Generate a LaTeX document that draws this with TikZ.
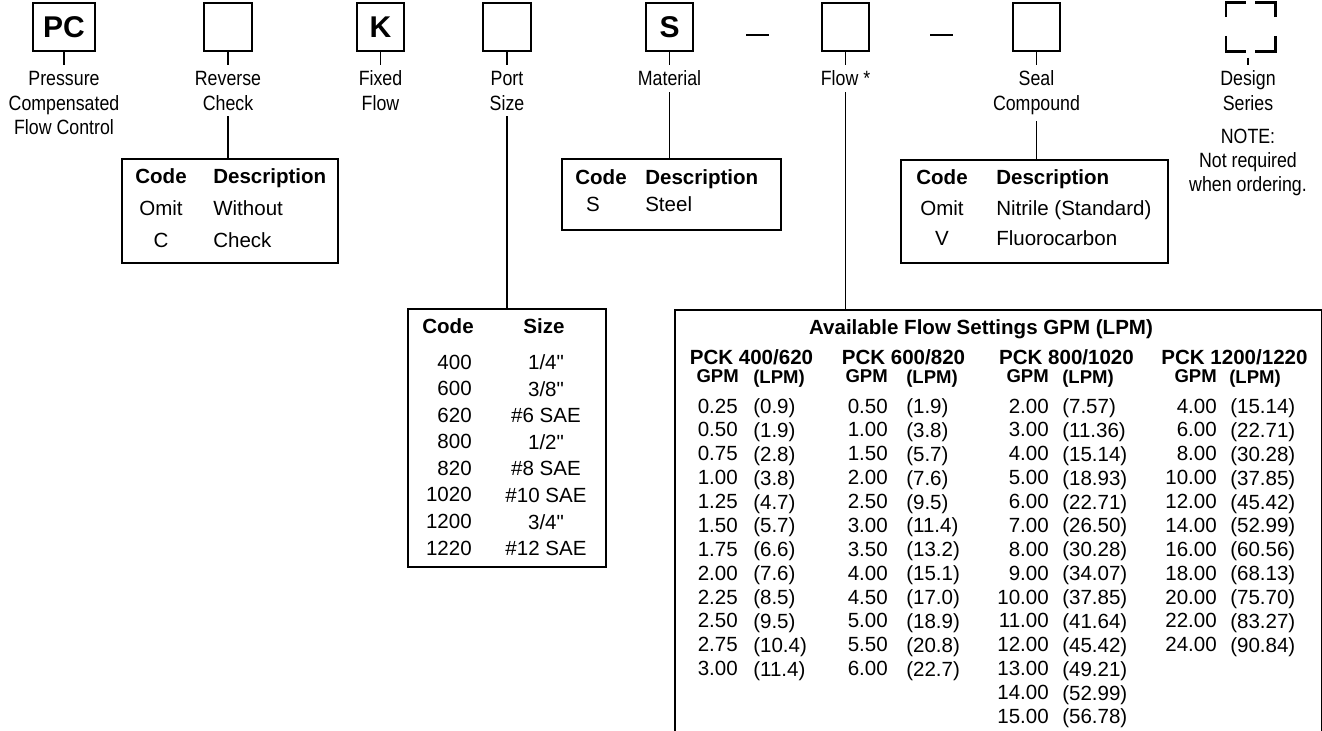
\documentclass[tikz,border=0pt]{standalone}
\usepackage{fontspec}
\setmainfont{Liberation Sans}[Ligatures=TeXOff]
\newfontfamily\narrowfont[FakeStretch=0.86]{Liberation Sans}
\newcommand{\lblfont}{\narrowfont\fontsize{15.5}{18.6}\selectfont}
\newcommand{\headfont}{\bfseries\fontsize{15.4}{18}\selectfont}

\begin{document}
\begin{tikzpicture}[x=0.75pt, y=-0.75pt,
    codebox/.style={draw, line width=1.3pt, inner sep=0pt, minimum width=35.5pt, minimum height=36pt,
      font=\bfseries\fontsize{22.5}{27}\selectfont},
    partlabel/.style={font=\lblfont, align=center, inner sep=0pt, outer sep=4.5pt, anchor=north},
    tablebox/.style={draw, line width=1.2pt, inner sep=0pt},
    cell/.style={inner sep=0pt, font=\fontsize{15.4}{#1}\selectfont},
    cell/.default=17.9pt,
    subhead/.style={inner sep=0pt, font=\bfseries\fontsize{13.9}{16}\selectfont},
    link/.style={line width=1pt},
    corner/.style={line width=2.2pt}]

  \useasboundingbox (0,0) rectangle (1322,731);

  % part number boxes
  \node[codebox, minimum width=46.5pt] (pc) at (64,27) {PC};
  \node[codebox] (rev) at (228,27) {};
  \node[codebox] (fixed) at (380.5,27) {K};
  \node[codebox] (port) at (507,27) {};
  \node[codebox] (mat) at (669.5,27) {S};
  \node[codebox] (flow) at (845.5,27) {};
  \node[codebox] (seal) at (1036.5,27) {};
  \node[codebox, draw=none] (design) at (1250.5,27) {};

  \draw[link] (746,35) -- (769,35);
  \draw[link] (930,35) -- (953,35);

  % corner marks of the optional box
  \draw[corner] ([yshift=-11.25pt]design.north west) -- (design.north west) -- ([xshift=15pt]design.north west);
  \draw[corner] ([yshift=-11.25pt]design.north east) -- (design.north east) -- ([xshift=-15pt]design.north east);
  \draw[corner] ([yshift=12pt]design.south west) -- (design.south west) -- ([xshift=15pt]design.south west);
  \draw[corner] ([yshift=12pt]design.south east) -- (design.south east) -- ([xshift=-15pt]design.south east);

  % labels
  \node[partlabel] (pclbl) at (64,65) {Pressure\\Compensated\\Flow Control};
  \node[partlabel] (revlbl) at (228,65) {Reverse\\Check};
  \node[partlabel] (fixedlbl) at (380.5,65) {Fixed\\Flow};
  \node[partlabel] (portlbl) at (507,65) {Port\\Size};
  \node[partlabel] (matlbl) at (669.5,65) {Material};
  \node[partlabel] (flowlbl) at (845.5,65) {Flow *};
  \node[partlabel] (seallbl) at (1036.5,65) {Seal\\Compound};
  \node[partlabel] (designlbl) at (1248,65) {Design\\Series};
  \node[partlabel, outer sep=0pt, font=\narrowfont\fontsize{15.5}{18}\selectfont] (note) at (1248,129)
    {NOTE:\\Not required\\when ordering.};
  \coordinate (designtick) at (1248,58);

  \foreach \p in {pc,rev,fixed,port,mat,flow,seal}
    \draw[link] (\p.south) -- (\p lbl.north);
  \draw[link] (designtick) -- (designlbl.north);

  % reverse check
  \node[tablebox, minimum width=162pt, minimum height=78pt] (revtab) at (230,211) {};
  \node[cell=24pt, anchor=north, align=center] (revcode) at (161,168.5) {\textbf{Code}\\Omit\\C};
  \node[cell=24pt, anchor=north west, align=left] (revdesc) at (213,168.5) {\textbf{Description}\\Without\\Check};

  % material
  \node[tablebox, minimum width=164.25pt, minimum height=53.25pt] (mattab) at (671.5,194.5) {};
  \node[cell, anchor=north] (matcode) at (601,169.5) {\textbf{Code}};
  \node[cell, anchor=north] (matS) at (593,196.5) {S};
  \node[cell=20.25pt, anchor=north west, align=left] (matdesc) at (645,169.5) {\textbf{Description}\\Steel};

  % seal compound
  \node[tablebox, minimum width=200.25pt, minimum height=77.25pt] (sealtab) at (1034.5,211.5) {};
  \node[cell=22.9pt, anchor=north, align=center] (sealcode) at (942,169.5) {\textbf{Code}\\Omit\\V};
  \node[cell=22.9pt, anchor=north west, align=left] (sealdesc) at (996,169.5)
    {\textbf{Description}\\Nitrile (Standard)\\Fluorocarbon};

  % port size
  \node[tablebox, minimum width=148.5pt, minimum height=193.5pt] (porttab) at (507,438) {};
  \node[cell, anchor=north] (portcodehd) at (448,318.5) {\textbf{Code}};
  \node[cell, anchor=north] (portsizehd) at (544,318.5) {\textbf{Size}};
  \node[cell=19.93pt, anchor=north east, align=right] (portcodes) at (472,354.5)
    {400\\600\\620\\800\\820\\1020\\1200\\1220};
  \node[cell=19.93pt, anchor=north, align=center] (portsizes) at (546,354.5)
    {1/4"\\3/8"\\\#6 SAE\\1/2"\\\#8 SAE\\\#10 SAE\\3/4"\\\#12 SAE};

  % flow settings
  \node[tablebox, minimum width=485.25pt, minimum height=345pt, anchor=north west] (flowtab) at (674,309) {};
  \node[cell, anchor=north, font=\headfont] (flowtitle) at (981,319.5) {Available Flow Settings GPM (LPM)};
  \node[cell, anchor=north, font=\headfont] (pck1) at (751.5,349.5) {PCK 400/620};
  \node[cell, anchor=north, font=\headfont] (pck2) at (903.5,349.5) {PCK 600/820};
  \node[cell, anchor=north, font=\headfont] (pck3) at (1066.5,349.5) {PCK 800/1020};
  \node[cell, anchor=north, font=\headfont] (pck4) at (1234.5,349.5) {PCK 1200/1220};
  \foreach \c/\gx/\lx in {1/739/753, 2/888/906, 3/1049/1062, 4/1217/1229} {
    \node[subhead, anchor=north east] (gpm\c) at (\gx,369.4) {GPM};
    \node[subhead, anchor=north west] (lpm\c) at (\lx,369.4) {(LPM)};
  }

  \node[cell, anchor=north east, align=right] (gpmvals1) at (738,398.5)
    {0.25\\0.50\\0.75\\1.00\\1.25\\1.50\\1.75\\2.00\\2.25\\2.50\\2.75\\3.00};
  \node[cell, anchor=north west, align=left] (lpmvals1) at (753,398.5)
    {(0.9)\\(1.9)\\(2.8)\\(3.8)\\(4.7)\\(5.7)\\(6.6)\\(7.6)\\(8.5)\\(9.5)\\(10.4)\\(11.4)};
  \node[cell, anchor=north east, align=right] (gpmvals2) at (888,398.5)
    {0.50\\1.00\\1.50\\2.00\\2.50\\3.00\\3.50\\4.00\\4.50\\5.00\\5.50\\6.00};
  \node[cell, anchor=north west, align=left] (lpmvals2) at (906,398.5)
    {(1.9)\\(3.8)\\(5.7)\\(7.6)\\(9.5)\\(11.4)\\(13.2)\\(15.1)\\(17.0)\\(18.9)\\(20.8)\\(22.7)};
  \node[cell, anchor=north east, align=right] (gpmvals3) at (1049,398.5)
    {2.00\\3.00\\4.00\\5.00\\6.00\\7.00\\8.00\\9.00\\10.00\\11.00\\12.00\\13.00\\14.00\\15.00};
  \node[cell, anchor=north west, align=left] (lpmvals3) at (1062,398.5)
    {(7.57)\\(11.36)\\(15.14)\\(18.93)\\(22.71)\\(26.50)\\(30.28)\\(34.07)\\(37.85)\\(41.64)\\(45.42)\\(49.21)\\(52.99)\\(56.78)};
  \node[cell, anchor=north east, align=right] (gpmvals4) at (1217,398.5)
    {4.00\\6.00\\8.00\\10.00\\12.00\\14.00\\16.00\\18.00\\20.00\\22.00\\24.00};
  \node[cell, anchor=north west, align=left] (lpmvals4) at (1230,398.5)
    {(15.14)\\(22.71)\\(30.28)\\(37.85)\\(45.42)\\(52.99)\\(60.56)\\(68.13)\\(75.70)\\(83.27)\\(90.84)};

  % leaders to the tables
  \draw[link] (revlbl.south) -- (revlbl.south |- revtab.north);
  \draw[link] (portlbl.south) -- (portlbl.south |- porttab.north);
  \draw[link] (matlbl.south) -- (matlbl.south |- mattab.north);
  \draw[link] (flowlbl.south) -- (flowlbl.south |- flowtab.north);
  \draw[link] (seallbl.south) -- (seallbl.south |- sealtab.north);
\end{tikzpicture}
\end{document}
